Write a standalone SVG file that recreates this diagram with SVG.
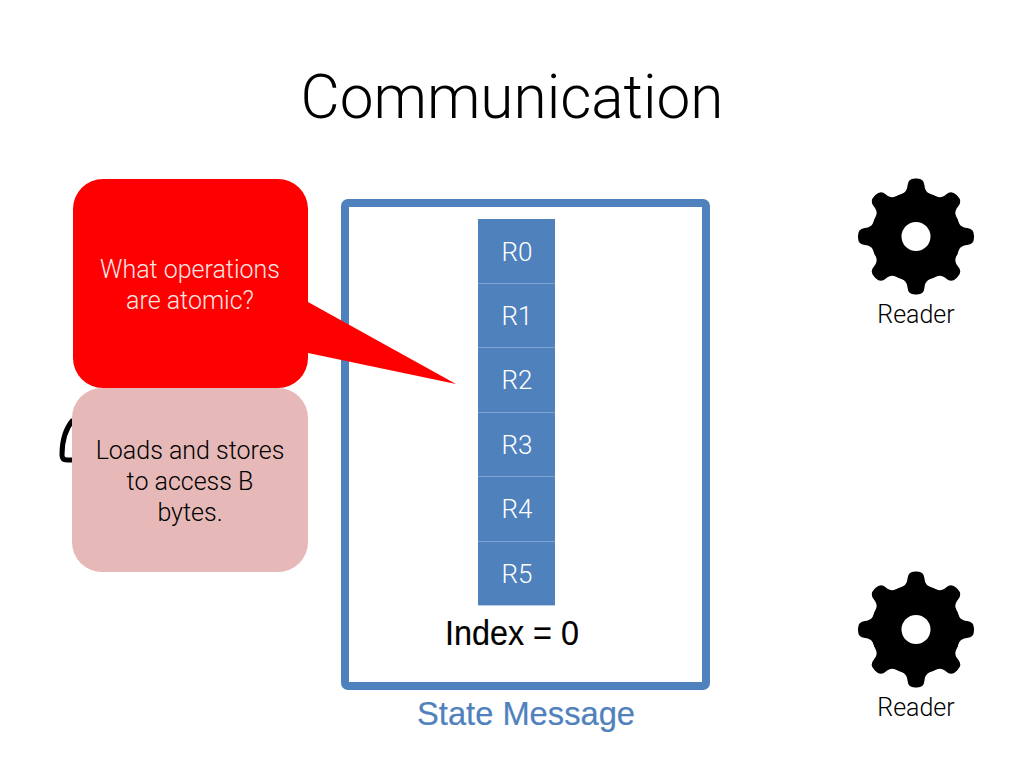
<svg xmlns="http://www.w3.org/2000/svg" width="1024" height="768" viewBox="0 0 1024 768">
<style>
.l{font-family:Roboto,"Liberation Sans",sans-serif;font-weight:300;text-anchor:middle}
.a{font-family:"Liberation Sans",Arial,sans-serif;text-anchor:middle}
.r{fill:#4f81bd}
.d{stroke:#7da3d0;stroke-width:1}
.rt{font-size:26px;fill:#fff}
.ct{font-size:25px}
.rd{font-size:25px;fill:#000}
</style>
<defs>
<g id="gear">
<circle r="45" fill="#000"/>
<g id="t4">
<path id="t" d="M-18,-41C-11,-43 -9,-46 -8.500,-51Q-8,-58 -1,-58H1Q8,-58 8.500,-51C9,-46 11,-43 18,-41Z" fill="#000"/>
<use href="#t" transform="rotate(45)"/>
<use href="#t" transform="rotate(90)"/>
<use href="#t" transform="rotate(135)"/>
</g>
<use href="#t4" transform="rotate(180)"/>
<circle r="14.500" fill="#fff"/>
</g>
</defs>
<rect width="1024" height="768" fill="#fff"/>
<text id="title" class="l" x="512" y="118" font-size="60.300">Communication</text>
<g id="state-message">
<rect x="345" y="203" width="361" height="483" rx="3" fill="none" stroke="#4f81bd" stroke-width="8"/>
<text class="a" x="526" y="725" font-size="34" fill="#4f81bd" stroke="#4f81bd" stroke-width="0.200" textLength="218" lengthAdjust="spacingAndGlyphs">State Message</text>
</g>
<g id="registers">
<g id="r0"><rect class="r" x="478" y="219" width="77" height="64.400"/><text class="l rt" x="517" y="261">R0</text></g>
<g id="r1"><rect class="r" x="478" y="283.400" width="77" height="64.400"/><line class="d" x1="478" x2="555" y1="283.500" y2="283.500"/><text class="l rt" x="517" y="325">R1</text></g>
<g id="r2"><rect class="r" x="478" y="347.800" width="77" height="64.400"/><line class="d" x1="478" x2="555" y1="347.500" y2="347.500"/><text class="l rt" x="517" y="389">R2</text></g>
<g id="r3"><rect class="r" x="478" y="412.200" width="77" height="64.400"/><line class="d" x1="478" x2="555" y1="412.500" y2="412.500"/><text class="l rt" x="517" y="454">R3</text></g>
<g id="r4"><rect class="r" x="478" y="476.600" width="77" height="64.400"/><line class="d" x1="478" x2="555" y1="476.500" y2="476.500"/><text class="l rt" x="517" y="518">R4</text></g>
<g id="r5"><rect class="r" x="478" y="541" width="77" height="64.400"/><line class="d" x1="478" x2="555" y1="541.500" y2="541.500"/><text class="l rt" x="517" y="583">R5</text></g>
</g>
<text id="index" class="a" x="512" y="645" font-size="35" fill="#000" stroke="#000" stroke-width="0.200" textLength="134" lengthAdjust="spacingAndGlyphs">Index = 0</text>
<g id="writer-partial"><path d="M73,420C66,428 62,440 62,455Q62,460 67,460L80,460" fill="none" stroke="#000" stroke-width="5"/></g>
<g id="callout-red">
<path d="M103,179H278A30,30 0 0 1 308,209V302L456,384L308,353V358A30,30 0 0 1 278,388H103A30,30 0 0 1 73,358V209A30,30 0 0 1 103,179Z" fill="#f00"/>
<text class="l ct" fill="#f5e6e6" x="190" y="278">What operations</text>
<text class="l ct" fill="#f5e6e6" x="190" y="309">are atomic?</text>
</g>
<g id="callout-pink">
<rect x="72" y="388" width="236" height="184" rx="30" fill="#e6b8b7"/>
<text class="l ct" fill="#000" x="190" y="459">Loads and stores</text>
<text class="l ct" fill="#000" x="190" y="490">to access B</text>
<text class="l ct" fill="#000" x="190" y="521">bytes.</text>
</g>
<g id="reader-1"><use href="#gear" transform="translate(916,236.500)"/><text class="l rd" x="916" y="323">Reader</text></g>
<g id="reader-2"><use href="#gear" transform="translate(916,629.500)"/><text class="l rd" x="916" y="716">Reader</text></g>
<g id="connectors"/>
</svg>
